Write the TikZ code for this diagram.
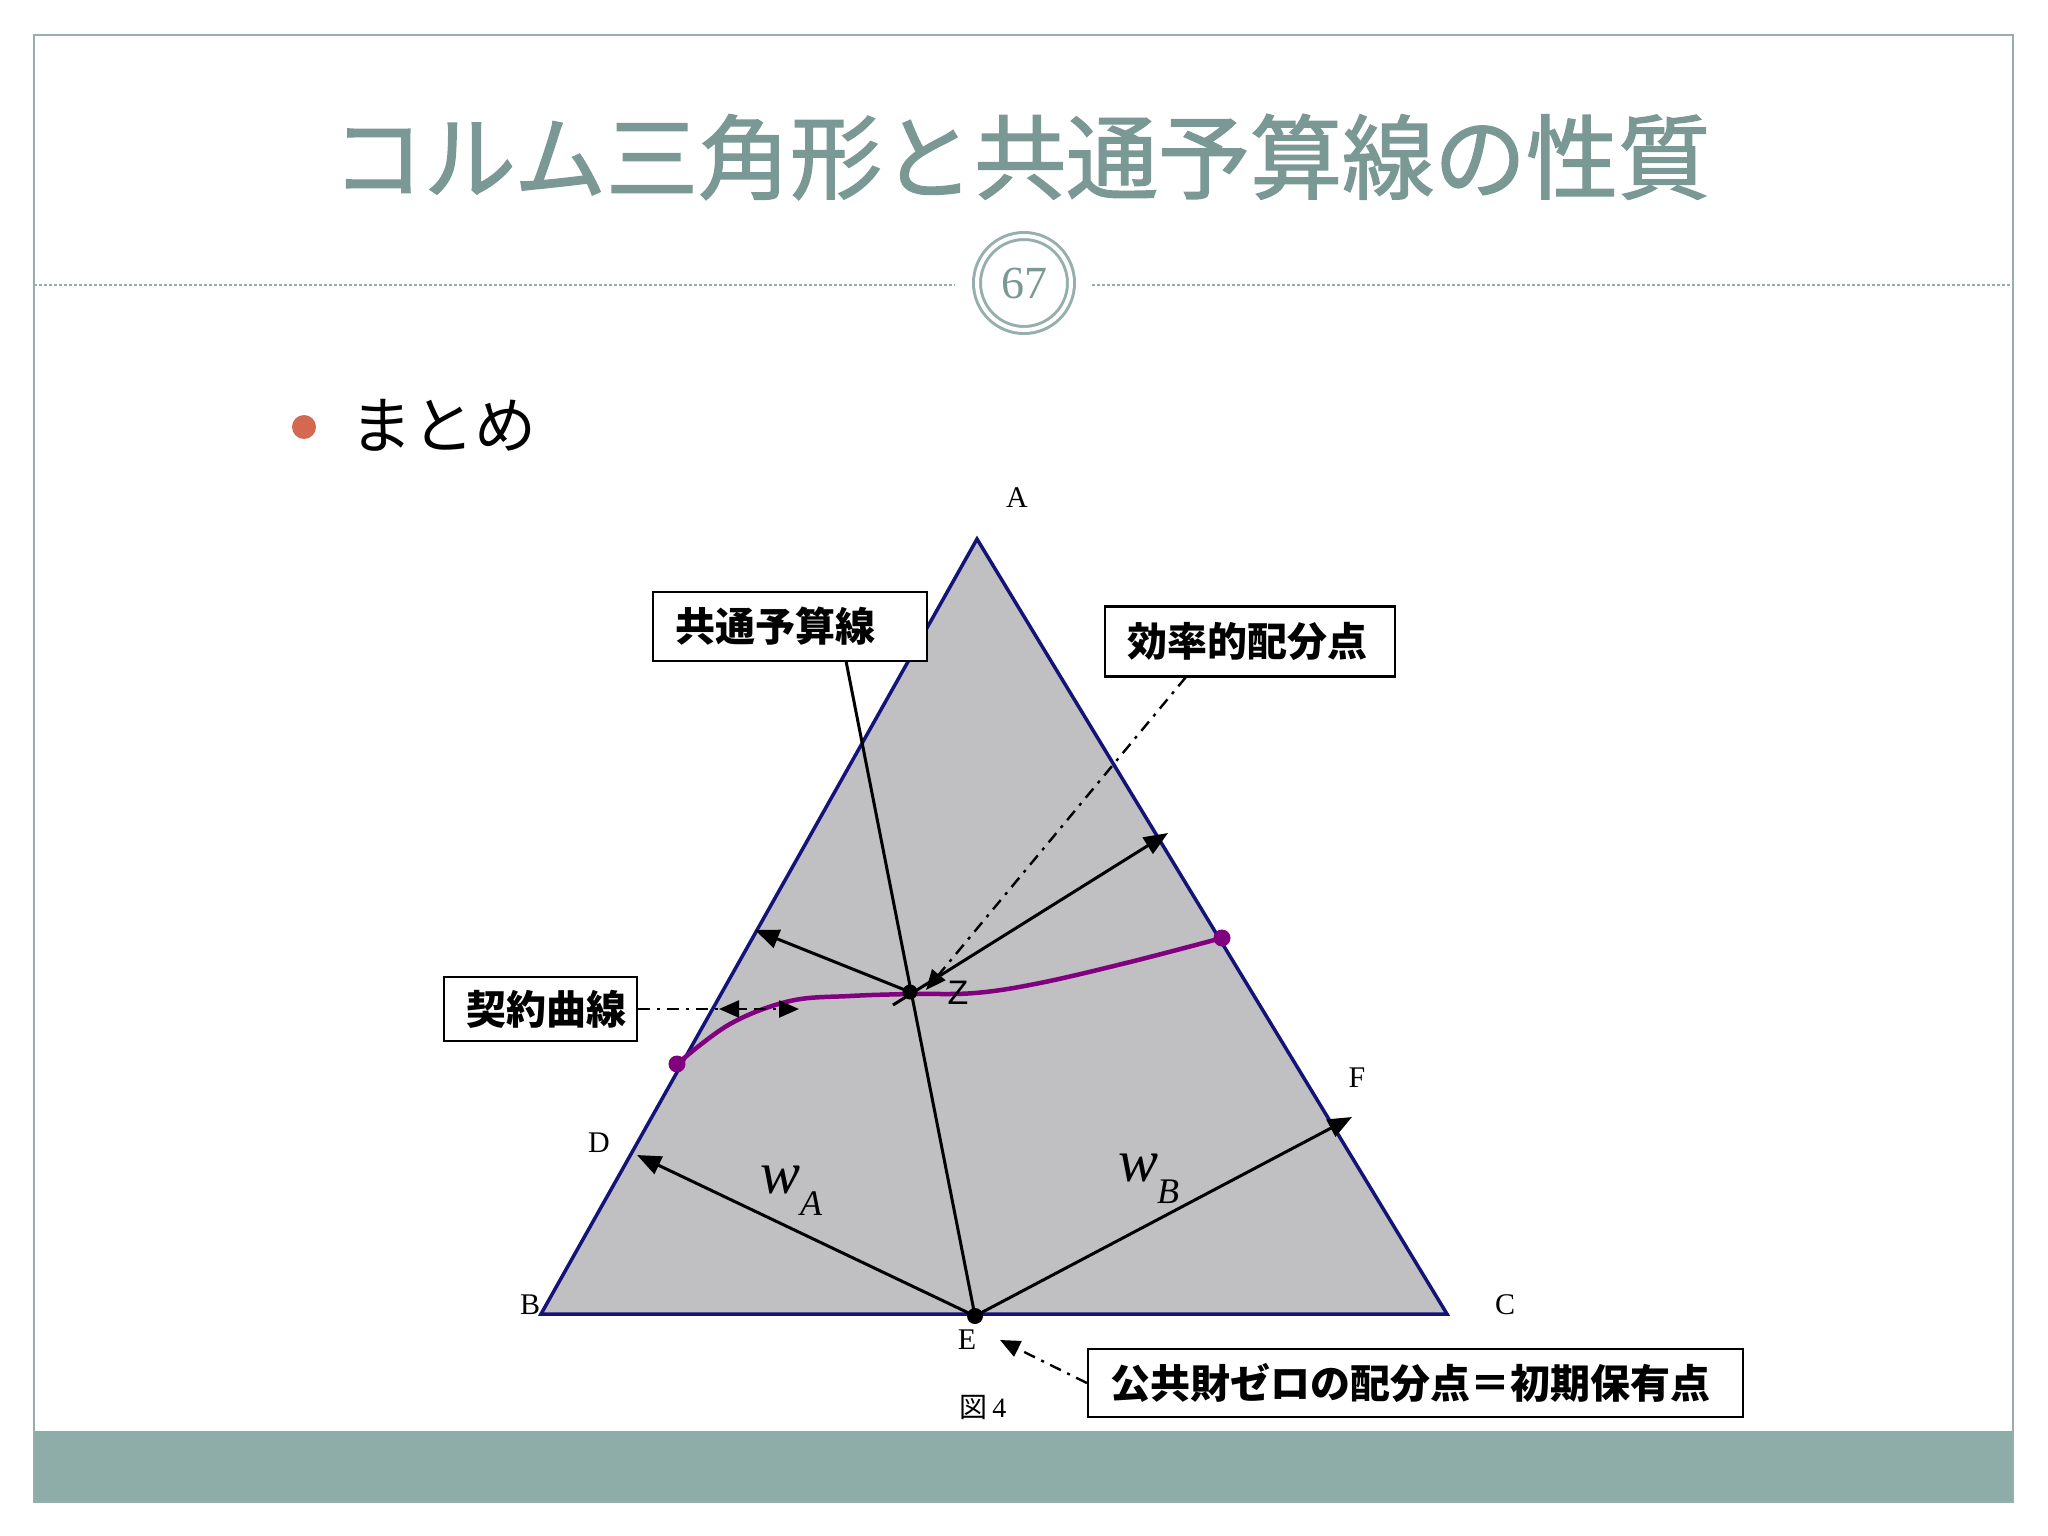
\documentclass[tikz,border=0pt]{standalone}
\usepackage{fontspec}
\newfontfamily\jp{Noto Sans CJK JP}
\newfontfamily\jpt{Noto Sans CJK JP}[FakeBold=1.6]
\newfontfamily\tms{Liberation Serif}
\newfontfamily\ars{Liberation Sans}
\usetikzlibrary{arrows.meta}
\definecolor{tealband}{RGB}{142,172,168}
\definecolor{framec}{RGB}{150,175,172}
\definecolor{titlec}{RGB}{122,152,148}
\definecolor{navyc}{RGB}{20,20,120}
\definecolor{trifill}{RGB}{192,191,193}
\definecolor{purp}{RGB}{128,0,128}
\definecolor{bulc}{RGB}{210,105,80}
\tikzset{
  lbl/.style={font=\tms\fontsize{30}{30}\selectfont, inner sep=0pt},
  callout/.style={draw=black, line width=2.2pt, fill=white, inner xsep=22pt, inner ysep=0pt,
    align=left, font=\jp\bfseries\fontsize{40}{40}\selectfont},
  vec/.style={line width=3pt, -{Triangle[length=24pt,width=19pt]}},
  ddash/.style={line width=2.4pt, dash pattern=on 12pt off 7pt on 3pt off 7pt},
  ddarrow/.style={ddash, -{Triangle[length=20pt,width=17pt]}},
  wlbl/.style={font=\tms\itshape\fontsize{60}{60}\selectfont, inner sep=0pt},
}
\begin{document}
\begin{tikzpicture}[x=1pt,y=-1pt]
\useasboundingbox (0,0) rectangle (2048,1536);
% slide frame
\fill[white] (0,0) rectangle (2048,1536);
\fill[tealband] (34,1431) rectangle (2013,1502);
\draw[framec, line width=1.5pt] (34,35) rectangle (2013,1502);
% title
\node[font=\jpt\fontsize{92}{92}\selectfont, text=titlec, inner sep=0pt] (title) at (1021,157) {コルム三角形と共通予算線の性質};
% dashed rule and page number
\coordinate (rl1) at (34,285);
\coordinate (rl2) at (955,285);
\coordinate (rr1) at (1092,285);
\coordinate (rr2) at (2013,285);
\draw[framec, line width=1.5pt, dash pattern=on 3pt off 2pt] (rl1) -- (rl2);
\draw[framec, line width=1.5pt, dash pattern=on 3pt off 2pt] (rr1) -- (rr2);
\node[circle, draw=framec, line width=3pt, double=white, double distance=4pt, minimum size=94pt, inner sep=0pt,
  font=\tms\fontsize{46}{46}\selectfont, text=titlec] (pg) at (1024,283) {67};
% bullet
\fill[bulc] (304,427) circle (12);
\node[font=\jp\fontsize{62}{62}\selectfont, anchor=west, inner sep=0pt] (matome) at (350,425) {まとめ};
% triangle
\coordinate (A) at (977,539);
\coordinate (B) at (541,1314);
\coordinate (C) at (1447,1314);
\fill[trifill] (A) -- (B) -- (C) -- cycle;
\draw[navyc, line width=3.5pt, line join=miter] (A) -- (B) -- (C) -- cycle;
% vertex labels
\node[lbl] (lA) at (1017,498) {A};
\node[lbl] (lB) at (530,1305) {B};
\node[lbl] (lC) at (1505,1305) {C};
\node[lbl] (lD) at (599,1143) {D};
\node[lbl] (lE) at (967,1340) {E};
\node[lbl] (lF) at (1357,1078) {F};
\node[font=\jp\fontsize{28}{28}\selectfont, inner sep=0pt] (fig) at (983,1407) {図\,{\tms 4}};
% points
\coordinate (E) at (975,1316);
\coordinate (Z) at (910,992);
\coordinate (D) at (637,1155);
\coordinate (F) at (1352,1117);
\coordinate (Zl) at (755,930);
\coordinate (Zr) at (1168,833);
\coordinate (Zs) at (893,1005);
\coordinate (bt) at (846,661);
% contract curve
\draw[purp, line width=4.5pt] plot[smooth, tension=0.6] coordinates {(677,1064) (730,1024) (790,1001) (850,996) (910,994) (975,993) (1040,983) (1130,962) (1222,938)};
\fill[purp] (677,1064) circle (8.5);
\fill[purp] (1222,938) circle (8.5);
% vectors
\draw[vec] (E) -- (D);
\draw[vec] (E) -- (F);
\draw[vec] (Z) -- (Zl);
\draw[vec] (Zs) -- (Zr);
\draw[line width=3pt] (E) -- (bt);
\fill (E) circle (8);
\fill (Z) circle (7.5);
\node[font=\ars\fontsize{34}{34}\selectfont, inner sep=0pt] (lZ) at (958,993) {Z};
% w labels
\node[wlbl] (wA) at (781,1180) {w};
\node[font=\tms\itshape\fontsize{36}{36}\selectfont, inner sep=0pt] (wAs) at (811,1204) {A};
\node[wlbl] (wB) at (1138,1168) {w};
\node[font=\tms\itshape\fontsize{36}{36}\selectfont, inner sep=0pt] (wBs) at (1168,1192) {B};
% callouts
\node[callout, text width=230pt, minimum height=69pt] (kyotsu) at (790,626.5) {共通予算線};
\node[callout, text width=246pt, minimum height=70pt] (koritsu) at (1250,641.5) {効率的配分点};
\node[callout, text width=149pt, minimum height=64pt] (keiyaku) at (540.5,1009) {契約曲線};
\node[callout, text width=611pt, minimum height=68pt] (shoki) at (1415.5,1383) {公共財ゼロの配分点＝初期保有点};
% leaders
\coordinate (kt) at (1186,677);
\coordinate (zt) at (926,990);
\draw[ddarrow] (kt) -- (zt);
\coordinate (cr) at (799,1009);
\coordinate (cl1) at (745,1009);
\coordinate (cl) at (719,1009);
\draw[ddarrow] (keiyaku.east) -- (cr);
\draw[line width=2.4pt, -{Triangle[length=20pt,width=17pt]}] (cl1) -- (cl);
\coordinate (et) at (1000,1340);
\draw[ddarrow] (shoki.west) -- (et);
\end{tikzpicture}
\end{document}
